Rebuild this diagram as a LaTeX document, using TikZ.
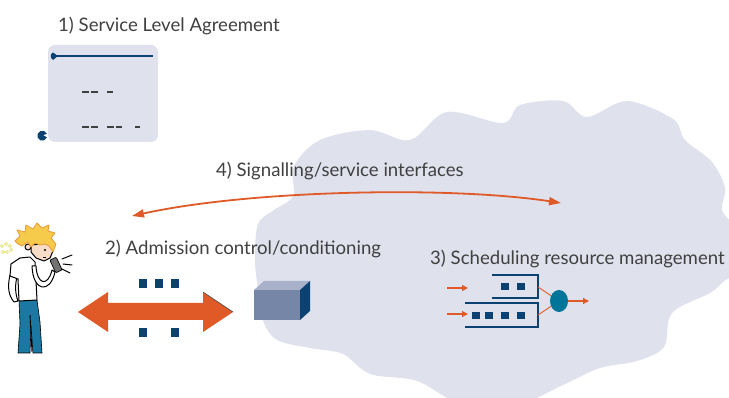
\documentclass[tikz,border=0pt]{standalone}
\usepackage{fontspec}
\setmainfont{Lato}
\usetikzlibrary{arrows.meta,shapes.geometric}
\definecolor{cloudc}{HTML}{DFE1ED}
\definecolor{orng}{HTML}{E05A28}
\definecolor{dblue}{HTML}{0B4272}
\definecolor{tealc}{HTML}{00759A}
\definecolor{cubefront}{HTML}{7686A6}
\definecolor{cubetop}{HTML}{A7B1CA}
\definecolor{txt}{HTML}{404040}
\definecolor{jeans}{HTML}{1B78A2}
\definecolor{hair}{HTML}{F6CB4C}
\definecolor{hairline}{HTML}{E89A3A}
\definecolor{skin}{HTML}{F8DCC8}
\tikzset{
  lbl/.style={font=\fontsize{18.6}{21}\selectfont, text=txt, anchor=base west, inner sep=0pt},
  blocksq/.style={fill=dblue, draw=none},
  queueline/.style={draw=dblue, line width=1.2pt},
  thinarrow/.style={draw=orng, line width=1.2pt, -{Triangle[length=6pt,width=6pt]}},
  feedline/.style={draw=orng, line width=0.9pt},
  dashseg/.style={draw=txt, line width=1.3pt},
  outline/.style={draw=black, line width=1pt, line join=round},
}
\begin{document}
\begin{tikzpicture}[x=1pt,y=-1pt]
\useasboundingbox (0,0) rectangle (729,398);
\clip (0,0) rectangle (729,398);

% network cloud
\fill[cloudc] plot[smooth cycle, tension=0.55] coordinates {
 (320,140) (370,130) (410,140) (447,112) (503,123) (520,105) (563,101)
 (587,117) (627,101) (673,119) (685,140) (712,162) (725,188) (722,210)
 (735,230) (735,270) (723,282) (710,293) (672,313) (664,347) (637,361)
 (600,368) (563,385) (517,405) (463,405) (417,381) (370,374) (343,354)
 (310,348) (277,340) (263,320) (257,282) (255,258) (258,224) (274,210)
 (293,196) (294,166)};

% service level agreement scroll
\fill[cloudc, rounded corners=7pt] (48,45) rectangle (158,142);
\draw[dblue, line width=1.3pt] (56,56) -- (153,56);
\fill[dblue] (58,56) -- (53,52.5) .. controls (50,54) and (50,58) .. (53,60) -- cycle;
\fill[dblue] (47,134) arc[start angle=20, end angle=340, radius=5pt] -- (43,135) -- cycle;
\draw[dashseg] (82,92) -- (89,92) (91,92) -- (98,92) (107,92) -- (113,92);
\draw[dashseg] (82,127) -- (89,127) (91,127) -- (98,127) (107,127) -- (114,127)
            (116,127) -- (122,127) (135,127) -- (140,127);

% labels
\node[lbl] (sla) at (58,32) {1) Service Level Agreement};
\node[lbl] (sig) at (216,177) {4) Signalling/service interfaces};
\node[lbl] (adm) at (105,255) {2) Admission control/conditioning};
\node[lbl] (sch) at (430,265) {3) Scheduling resource management};

% signalling interface arrow
\coordinate (sigL) at (132,216);
\coordinate (sigR) at (561,203);
\draw[orng, line width=1.8pt, {Triangle[length=12pt,width=8pt]}-{Triangle[length=12pt,width=8pt]}]
  (sigL) .. controls (250,190) and (450,186) .. (sigR);

% admission double arrow
\fill[orng] (78,312) -- (108,292) -- (108,303) -- (203,303) -- (203,292)
  -- (233,312) -- (203,332) -- (203,320) -- (108,320) -- (108,332) -- cycle;
\draw[black!70, line width=0.6pt] (203,292) -- (233,312);
\foreach \x in {139,155,171} \fill[blocksq] (\x,279) rectangle ++(8,9);
\foreach \x in {139,171} \fill[blocksq] (\x,328) rectangle ++(8,9);

% conditioning box
\fill[cubefront] (254,290) rectangle (300,320);
\fill[cubetop] (254,290) -- (264,281) -- (310,281) -- (300,290) -- cycle;
\fill[dblue] (300,290) -- (310,281) -- (310,311) -- (300,320) -- cycle;

% scheduler queues
\draw[queueline] (492,275) -- (538,275) -- (538,298) -- (492,298);
\draw[queueline] (465,303) -- (538,303) -- (538,327) -- (465,327);
\foreach \x in {501,517} \fill[blocksq] (\x,283) rectangle ++(8,7);
\foreach \x in {472,485,501,517} \fill[blocksq] (\x,312) rectangle ++(8,7);
\coordinate (in1) at (447,288); \coordinate (in1e) at (468,288);
\coordinate (in2) at (447,314); \coordinate (in2e) at (468,314);
\draw[thinarrow] (in1) -- (in1e);
\draw[thinarrow] (in2) -- (in2e);
\node[fill=tealc, ellipse, minimum width=18pt, minimum height=22pt, inner sep=0pt] (srv) at (559,301) {};
\draw[feedline] (538,287) -- (srv);
\draw[feedline] (538,315) -- (srv);
\coordinate (out) at (589,301);
\draw[thinarrow] (srv.east) -- (out);

% user with phone: jeans
\filldraw[fill=jeans, draw=black, line width=0.6pt, line join=round]
  (19,300) -- (37,300) -- (40,322) -- (42,353) -- (33,353) -- (31,326)
  -- (30,353) -- (18,353) -- (20,324) -- cycle;
\draw[black, line width=0.9pt] (30,315) -- (32,352);
% back arm
\filldraw[fill=white, outline] (10,275) .. controls (7,288) and (9,296) .. (14,302)
  -- (18,301) .. controls (15,293) and (15,285) .. (17,277) -- cycle;
% shirt
\filldraw[fill=white, outline] (11,264) -- (20,258) -- (30,257) -- (35,262)
  -- (37,300) -- (19,301) -- (18,279) -- (10,276) -- cycle;
% front arm reaching to the phone
\filldraw[fill=white, outline] (32,266) .. controls (33,292) and (50,294) .. (55,272)
  -- (52,270) .. controls (48,287) and (37,285) .. (36,266) -- cycle;
% head
\filldraw[fill=skin, outline] (31,245) -- (50,243) -- (53,251) -- (50,258)
  -- (44,261) -- (36,258) -- (31,252) -- cycle;
\filldraw[fill=skin, outline] (28,247) circle[radius=3pt];
\fill[black] (45,250) circle[radius=1.1pt];
\draw[black, line width=0.7pt] (43,257) -- (46,257);
\filldraw[fill=hair, draw=hairline, line width=0.8pt, line join=round]
  (15,241) -- (20,236) -- (17,230) -- (25,232) -- (26,225) -- (33,229)
  -- (37,223) -- (42,228) -- (49,225) -- (48,231) -- (55,233) -- (51,238)
  -- (56,244) -- (53,252) -- (49,246) -- (45,244) -- (40,245) -- (35,243)
  -- (31,247) -- (28,242) -- (22,246) -- (18,244) -- cycle;
% phone and its ringing
\filldraw[fill=black!55, draw=black, line width=0.7pt, rounded corners=1pt,
  rotate around={25:(56,265)}] (52.5,258) rectangle (59.5,272);
\draw[black, line width=1pt, line cap=round] (62,259) -- (72,255)
  (63,264) -- (72,265) (62,269) -- (70,273);
\foreach \p in {(2,246),(6,244),(10,246),(3,252),(7,252),(11,250)}
  \draw[olive!40!yellow!70!white, line width=0.6pt] \p circle[radius=1.5pt];
\end{tikzpicture}
\end{document}
